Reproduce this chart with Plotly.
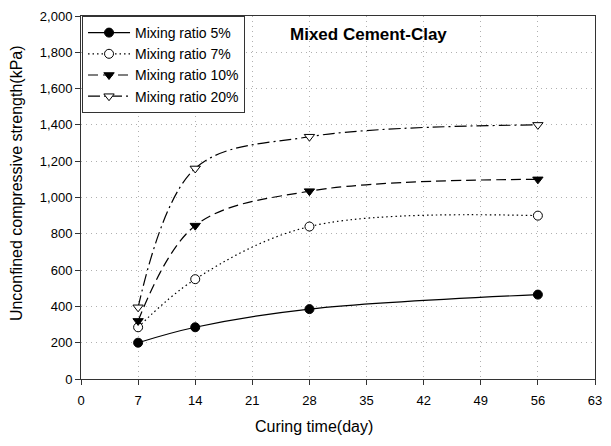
import plotly.graph_objects as go

# Curing time (days) and unconfined compressive strength (kPa)
days = [7, 14, 28, 56]
ratio_5 = [200, 285, 385, 465]
ratio_7 = [285, 550, 840, 900]
ratio_10 = [320, 845, 1035, 1100]
ratio_20 = [395, 1160, 1335, 1400]

series_names = ["Mixing ratio 5%", "Mixing ratio 7%", "Mixing ratio 10%", "Mixing ratio 20%"]
x_ticks = [0, 7, 14, 21, 28, 35, 42, 49, 56, 63]
y_ticks = list(range(0, 2001, 200))

FONT = "Liberation Sans, Arial"

# line dash, marker symbol, marker fill per series
styles = [
    ("solid", "circle", "black"),
    ("1.5px,3px", "circle", "white"),
    ("10px,5px", "triangle-down", "black"),
    ("12px,4px,2px,4px", "triangle-down", "white"),
]

fig = go.Figure()
for name, vals, (dash, symbol, fill) in zip(series_names, [ratio_5, ratio_7, ratio_10, ratio_20], styles):
    fig.add_trace(go.Scatter(
        x=days, y=vals, name=name, mode="lines+markers",
        line=dict(color="black", width=1.2, dash=dash, shape="spline", smoothing=1.0),
        marker=dict(symbol=symbol, size=9, color=fill,
                    line=dict(color="black", width=1)),
    ))

# chart title inside the plot area
fig.add_annotation(
    x=(372 - 81) / 521, y=(379 - 29) / 369, xref="paper", yref="paper",
    xanchor="center", yanchor="middle",
    text="<b>Mixed Cement-Clay</b>", showarrow=False,
    font=dict(family=FONT, size=17, color="black"),
)
# axis titles
fig.add_annotation(
    x=(317 - 81) / 521, y=(379 - 427) / 369, xref="paper", yref="paper",
    xanchor="center", yanchor="middle",
    text="Curing time(day)", showarrow=False,
    font=dict(family=FONT, size=16, color="black"),
)
fig.add_annotation(
    x=(15 - 81) / 521, y=(379 - 180) / 369, xref="paper", yref="paper",
    xanchor="center", yanchor="middle", textangle=-90,
    text="Unconfined compressive strength(kPa)", showarrow=False,
    font=dict(family=FONT, size=16, color="black"),
)

axis_common = dict(
    showline=True, linecolor="#333", linewidth=1, mirror=True,
    ticks="outside", ticklen=5, tickcolor="#333",
    showgrid=True, gridcolor="#b0b0b0", gridwidth=1, griddash="1px,4px",
    zeroline=False,
    tickfont=dict(family=FONT, size=13, color="black"),
)

fig.update_xaxes(range=[0, 63], tickvals=x_ticks, ticklabelstandoff=4, **axis_common)
fig.update_yaxes(range=[0, 2000], tickvals=y_ticks, tickformat=",d", **axis_common)

fig.update_layout(
    width=611, height=446,
    margin=dict(l=81, r=9, t=10, b=67),
    paper_bgcolor="white", plot_bgcolor="white",
    showlegend=True,
    legend=dict(
        x=0.002, y=1.0, xanchor="left", yanchor="top",
        bgcolor="white", bordercolor="#333", borderwidth=1,
        font=dict(family=FONT, size=14, color="black"),
        tracegroupgap=0, itemwidth=42,
    ),
)

fig.write_html("out.html")
